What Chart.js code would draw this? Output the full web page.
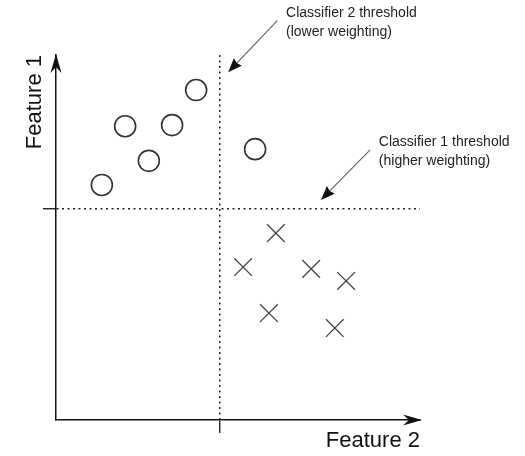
<!DOCTYPE html>
<html>
<head>
<meta charset="utf-8">
<script src="https://cdn.jsdelivr.net/npm/chart.js@4.4.1/dist/chart.umd.min.js"></script>
<style>
  body { margin: 0; background: #fff; }
</style>
</head>
<body>
<canvas id="chart" width="525" height="456"></canvas>
<script>
// class A samples (circles) and class B samples (crosses), in feature units 0..10
const CircleX = [1.26, 1.90, 2.55, 3.19, 3.85, 5.47];
const CircleY = [6.44, 8.05, 7.10, 8.08, 9.04, 7.42];

const CrossX = [5.14, 5.85, 6.04, 7.01, 7.66, 7.97];
const CrossY = [4.19, 2.93, 5.12, 4.14, 2.52, 3.81];

// the two classifier thresholds
const Feature2Threshold = [4.5];
const Feature1Threshold = [5.78];

const NoteText = [
    ["Classifier 2 threshold", "(lower weighting)"],
    ["Classifier 1 threshold", "(higher weighting)"]
];

const FONT = "'Liberation Sans', Arial, sans-serif";

// where each note sits and where its arrow points (in feature units)
const notes = [
    { lines: NoteText[0], at: [6.32, 11.15], from: [6.08, 10.94], to: [4.73, 9.53] },
    { lines: NoteText[1], at: [8.87, 7.62], from: [8.63, 7.40], to: [7.28, 6.03] }
];

function arrowHead(ctx, x, y, angle, len, half, notch) {
    ctx.save();
    ctx.translate(x, y);
    ctx.rotate(angle);
    ctx.beginPath();
    ctx.moveTo(0, 0);
    ctx.lineTo(-len, -half);
    ctx.lineTo(-len + notch, 0);
    ctx.lineTo(-len, half);
    ctx.closePath();
    ctx.fill();
    ctx.restore();
}

const extras = {
    id: 'extras',
    afterDraw(chart) {
        const ctx = chart.ctx;
        const a = chart.chartArea;
        const sx = chart.scales.x, sy = chart.scales.y;

        ctx.save();
        ctx.fillStyle = '#111';
        // axis arrow heads
        arrowHead(ctx, a.left, a.top - 1, -Math.PI / 2, 19, 5.5, 6);
        arrowHead(ctx, a.right + 2, a.bottom, 0, 19, 5.5, 6);

        // notes with their arrows
        notes.forEach(function (n) {
            const x1 = sx.getPixelForValue(n.from[0]), y1 = sy.getPixelForValue(n.from[1]);
            const x2 = sx.getPixelForValue(n.to[0]), y2 = sy.getPixelForValue(n.to[1]);
            const ang = Math.atan2(y2 - y1, x2 - x1);
            ctx.strokeStyle = '#666';
            ctx.lineWidth = 1.2;
            ctx.beginPath();
            ctx.moveTo(x1, y1);
            ctx.lineTo(x2 - Math.cos(ang) * 8, y2 - Math.sin(ang) * 8);
            ctx.stroke();
            ctx.fillStyle = '#111';
            arrowHead(ctx, x2, y2, ang, 14, 5.5, 1.5);

            ctx.fillStyle = '#222';
            ctx.font = '14px ' + FONT;
            ctx.textAlign = 'left';
            ctx.textBaseline = 'middle';
            const tx = sx.getPixelForValue(n.at[0]), ty = sy.getPixelForValue(n.at[1]);
            n.lines.forEach(function (line, i) {
                ctx.fillText(line, tx, ty + i * 19);
            });
        });
        ctx.restore();
    }
};

new Chart(document.getElementById("chart"), {
    type: 'scatter',
    data: {
        datasets: [{
            data: CircleX.map((x, i) => ({ x: x, y: CircleY[i] })),
            pointStyle: 'circle',
            pointRadius: 10.5,
            pointBorderWidth: 1.6,
            pointBorderColor: '#333',
            pointBackgroundColor: 'rgba(255,255,255,0)'
        }, {
            data: CrossX.map((x, i) => ({ x: x, y: CrossY[i] })),
            pointStyle: 'crossRot',
            pointRadius: 12.5,
            pointBorderWidth: 1.3,
            pointBorderColor: '#444'
        }]
    },
    options: {
        responsive: false,
        animation: false,
        layout: { padding: { left: 21, top: 55, right: 105, bottom: 4 } },
        plugins: {
            legend: { display: false },
            tooltip: { enabled: false }
        },
        scales: {
            x: {
                type: 'linear',
                min: 0,
                max: 10,
                afterBuildTicks: s => { s.ticks = Feature2Threshold.map(v => ({ value: v })); },
                ticks: { display: false },
                grid: { color: '#222', lineWidth: 1.5, tickColor: '#111', tickLength: 13, tickWidth: 1.3 },
                border: { display: true, color: '#111', width: 1.5, dash: [2, 3.5] },
                title: {
                    display: true,
                    text: 'Feature 2',
                    align: 'end',
                    color: '#111',
                    font: { family: FONT, size: 22, lineHeight: 1 },
                    padding: { top: -3, bottom: 0 }
                }
            },
            y: {
                type: 'linear',
                min: 0,
                max: 10,
                afterBuildTicks: s => { s.ticks = Feature1Threshold.map(v => ({ value: v })); },
                ticks: { display: false },
                grid: { color: '#222', lineWidth: 1.5, tickColor: '#111', tickLength: 13, tickWidth: 1.3 },
                border: { display: true, color: '#111', width: 1.5, dash: [2, 3.5] },
                title: {
                    display: true,
                    text: 'Feature 1',
                    align: 'end',
                    color: '#111',
                    font: { family: FONT, size: 22, lineHeight: 1 },
                    padding: { top: 3, bottom: -3 }
                }
            }
        }
    },
    plugins: [extras]
});
</script>
</body>
</html>
